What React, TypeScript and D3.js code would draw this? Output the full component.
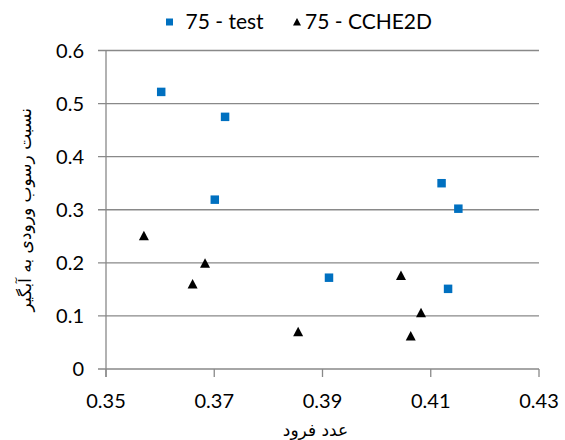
import React from 'react';
import * as d3 from 'd3';

const testX = [0.3602, 0.372, 0.3701, 0.3912, 0.412, 0.4151, 0.4132];
const testY = [0.522, 0.475, 0.319, 0.172, 0.35, 0.302, 0.151];
const ccheX = [0.357, 0.3683, 0.366, 0.3855, 0.4045, 0.4082, 0.4063];
const ccheY = [0.251, 0.199, 0.16, 0.07, 0.176, 0.106, 0.062];

const xTicks = [0.35, 0.37, 0.39, 0.41, 0.43];
const yTicks = [0, 0.1, 0.2, 0.3, 0.4, 0.5, 0.6];

const seriesNames = ['75 - test', '75 - CCHE2D'];
const xTitle = 'عدد فرود';
const yTitle = 'نسبت رسوب ورودی به آبگیر';

const W = 565;
const H = 440;
const margin = { top: 50.5, right: 26, bottom: 71, left: 106 };
const gridColor = '#898989';
const blue = '#0070C0';
const font = 'Lato, "Open Sans", sans-serif';
const arabicFont = '"DejaVu Sans", sans-serif';

const App = () => {
  const x = d3.scaleLinear().domain([0.35, 0.43]).range([margin.left, W - margin.right]);
  const y = d3.scaleLinear().domain([0, 0.6]).range([H - margin.bottom, margin.top]);

  const square = d3.symbol(d3.symbolSquare, 72)();
  const tri = 'M0,-5L5,4.5L-5,4.5Z';

  const test = testX.map((v, i) => ({ x: v, y: testY[i] }));
  const cche = ccheX.map((v, i) => ({ x: v, y: ccheY[i] }));

  return (
    <svg width={W} height={H} style={{ position: 'absolute', left: 0, top: 0, background: '#fff' }}>
      {/* gridlines + y ticks */}
      {yTicks.map(t => (
        <g key={t}>
          <line x1={x(0.35) - 8} x2={x(0.43)} y1={y(t)} y2={y(t)} stroke={gridColor} strokeWidth={1.3} />
          <text x={84} y={y(t)} dy="0.35em" textAnchor="end" fontFamily={font} fontSize={20} fill="#000">
            {d3.format('')(t)}
          </text>
        </g>
      ))}
      {/* y axis */}
      <line x1={x(0.35)} x2={x(0.35)} y1={y(0.6)} y2={y(0) + 8} stroke={gridColor} strokeWidth={1.3} />
      {/* x ticks */}
      {xTicks.map(t => (
        <g key={t}>
          <line x1={x(t)} x2={x(t)} y1={y(0)} y2={y(0) + 8} stroke={gridColor} strokeWidth={1.3} />
          <text x={x(t)} y={401} dy="0.35em" textAnchor="middle" fontFamily={font} fontSize={20} fill="#000">
            {d3.format('.2f')(t)}
          </text>
        </g>
      ))}

      {test.map((d, i) => (
        <path key={'t' + i} d={square} transform={`translate(${x(d.x)},${y(d.y)})`} fill={blue} />
      ))}
      {cche.map((d, i) => (
        <path key={'c' + i} d={tri} transform={`translate(${x(d.x)},${y(d.y)})`} fill="#000" />
      ))}

      {/* axis titles */}
      <text x={(x(0.35) + x(0.43)) / 2 - 7} y={430} dy="0.35em" textAnchor="middle" fontFamily={arabicFont} fontSize={17} fill="#000">
        {xTitle}
      </text>
      <text
        transform={`translate(25,${(y(0) + y(0.6)) / 2}) rotate(-90)`}
        dy="0.35em"
        textAnchor="middle"
        fontFamily={arabicFont}
        fontSize={17}
        fill="#000"
      >
        {yTitle}
      </text>

      {/* legend */}
      <g transform="translate(169.5,22)">
        <rect x={-3.5} y={-3.5} width={7} height={7} fill={blue} />
        <text x={16} dy="0.35em" fontFamily={font} fontSize={21} fill="#000">{seriesNames[0]}</text>
      </g>
      <g transform="translate(297,22)">
        <path d="M0,-4L4,3.5L-4,3.5Z" fill="#000" />
        <text x={8} dy="0.35em" fontFamily={font} fontSize={21} fill="#000">{seriesNames[1]}</text>
      </g>
    </svg>
  );
};

export default App;
